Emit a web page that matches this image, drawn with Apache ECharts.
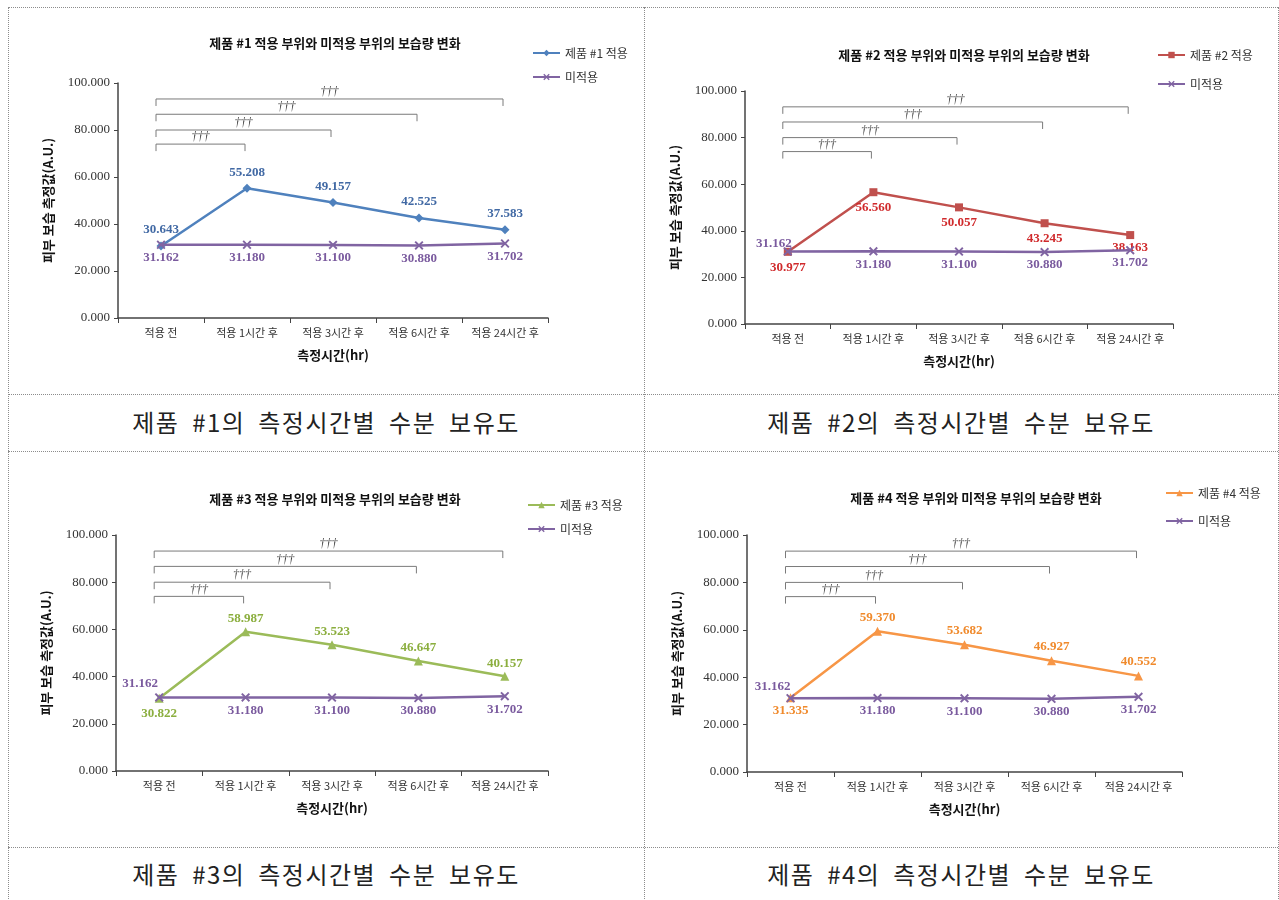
<!DOCTYPE html>
<html>
<head>
<meta charset="utf-8">
<script src="https://cdn.jsdelivr.net/npm/echarts@6/dist/echarts.min.js"></script>
<style>
  body { margin: 0; background: #fff; width: 1279px; height: 900px; position: relative; overflow: hidden; }
  .h { position: absolute; height: 0; border-top: 1px dotted #8c8c8c; }
  .v { position: absolute; width: 0; border-left: 1px dotted #8c8c8c; }
  .chart { position: absolute; }
  .cap { position: absolute; text-align: center; font-family: 'Noto Sans CJK KR'; font-size: 24px;
         letter-spacing: 1.5px; word-spacing: 6px; color: #222; }
</style>
</head>
<body>
<!-- table borders -->
<div class="h" style="left:8px;top:7px;width:1270px"></div>
<div class="h" style="left:8px;top:394px;width:1270px"></div>
<div class="h" style="left:8px;top:451px;width:1270px"></div>
<div class="h" style="left:8px;top:847px;width:1270px"></div>
<div class="v" style="left:8px;top:7px;height:900px"></div>
<div class="v" style="left:644px;top:7px;height:900px"></div>
<div class="v" style="left:1278px;top:7px;height:900px"></div>

<div id="c1" class="chart" style="left:8px;top:7px;width:636px;height:387px"></div>
<div id="c2" class="chart" style="left:644px;top:7px;width:634px;height:387px"></div>
<div id="c3" class="chart" style="left:8px;top:451px;width:636px;height:396px"></div>
<div id="c4" class="chart" style="left:644px;top:451px;width:634px;height:396px"></div>

<div class="cap" style="left:8px;top:404px;width:636px">제품 #1의 측정시간별 수분 보유도</div>
<div class="cap" style="left:644px;top:404px;width:634px">제품 #2의 측정시간별 수분 보유도</div>
<div class="cap" style="left:8px;top:856px;width:636px">제품 #3의 측정시간별 수분 보유도</div>
<div class="cap" style="left:644px;top:856px;width:634px">제품 #4의 측정시간별 수분 보유도</div>

<script>
const categories = ['적용 전', '적용 1시간 후', '적용 3시간 후', '적용 6시간 후', '적용 24시간 후'];
const untreated = [31.162, 31.180, 31.100, 30.880, 31.702];
const product1 = [30.643, 55.208, 49.157, 42.525, 37.583];
const product2 = [30.977, 56.560, 50.057, 43.245, 38.163];
const product3 = [30.822, 58.987, 53.523, 46.647, 40.157];
const product4 = [31.335, 59.370, 53.682, 46.927, 40.552];
const bracketEnds = [1, 2, 3, 4];
const bracketLevels = [74, 80, 86.7, 93.2];
const bracketMark = '†††';

const SERIF = "'Liberation Serif', 'Noto Sans CJK KR', serif";
const KR = "'Noto Sans CJK KR', sans-serif";
const PURPLE = '#8064A2', PURPLE_LBL = '#7a5a9e';
const CROSS = 'path://M0,1.5L1.5,0L5,3.5L8.5,0L10,1.5L6.5,5L10,8.5L8.5,10L5,6.5L1.5,10L0,8.5L3.5,5Z';

const top5 = d => ({ position: 'top', distance: d });
const bot5 = d => ({ position: 'bottom', distance: d });

const charts = [
  { el: 'c1', num: '#1', values: product1, color: '#4F81BD', lbl: '#4169a4', symbol: 'diamond', size: 9,
    grid: [110, 76, 430, 235], title: [327, 36], legend: [519, 34, 10],
    pLabels: [top5(5), top5(5), top5(5), top5(5), top5(5)],
    uLabels: [bot5(2), bot5(2), bot5(2), bot5(2), bot5(2)] },
  { el: 'c2', num: '#2', values: product2, color: '#C0504D', lbl: '#d02a2c', symbol: 'rect', size: 8,
    grid: [101, 84, 428, 233], title: [320, 48], legend: [508, 36, 15],
    pLabels: [bot5(5), bot5(5), bot5(5), bot5(5), bot5(2)],
    uLabels: [{ position: 'top', distance: -3, offset: [-14, 0] }, bot5(2), bot5(2), bot5(2), bot5(2)] },
  { el: 'c3', num: '#3', values: product3, color: '#9BBB59', lbl: '#8bae3e', symbol: 'triangle', size: 9,
    grid: [108, 84, 432, 236], title: [327, 48], legend: [514, 42, 10],
    pLabels: [bot5(4), top5(2), top5(2), top5(2), top5(2)],
    uLabels: [{ position: 'top', distance: 3, offset: [-19, 0] }, bot5(2), bot5(2), bot5(2), bot5(2)] },
  { el: 'c4', num: '#4', values: product4, color: '#F79646', lbl: '#f08a2c', symbol: 'triangle', size: 9,
    grid: [103, 84, 435, 237], title: [332, 47], legend: [516, 30, 14],
    pLabels: [bot5(2), top5(3), top5(3), top5(3), top5(3)],
    uLabels: [{ position: 'top', distance: 1, offset: [-18, 0] }, bot5(2), bot5(2), bot5(2), bot5(2)] }
];

function bracketItem(params, api) {
  const p0 = api.coord([0, api.value(1)]);
  const p1 = api.coord([api.value(0), api.value(1)]);
  const x0 = p0[0] - 5, x1 = p1[0] - 2, y = p0[1];
  return {
    type: 'group',
    children: [
      { type: 'polyline', shape: { points: [[x0, y + 7], [x0, y], [x1, y], [x1, y + 7]] },
        style: { stroke: '#7a7a7a', lineWidth: 1, fill: 'none' } },
      { type: 'text', style: { text: bracketMark, x: (x0 + x1) / 2, y: y - 1, align: 'center',
        verticalAlign: 'bottom', font: 'italic 12px ' + SERIF, fill: '#444' } }
    ]
  };
}

charts.forEach(c => {
  const chart = echarts.init(document.getElementById(c.el));
  const pName = '제품 ' + c.num + ' 적용';
  const option = {
    animation: false,
    textStyle: { fontFamily: SERIF },
    graphic: [{
      type: 'text', x: c.title[0], y: c.title[1],
      style: { text: '제품 ' + c.num + ' 적용 부위와 미적용 부위의 보습량 변화', align: 'center',
        verticalAlign: 'middle', font: 'bold 13px ' + KR, fill: '#111' }
    }],
    legend: {
      orient: 'vertical', left: c.legend[0], top: c.legend[1], itemGap: c.legend[2],
      itemWidth: 27, itemHeight: 8, data: [pName, '미적용'],
      textStyle: { fontFamily: KR, fontSize: 12, lineHeight: 14, color: '#333' }
    },
    grid: { left: c.grid[0], top: c.grid[1], width: c.grid[2], height: c.grid[3] },
    xAxis: {
      type: 'category', data: categories, boundaryGap: true,
      name: '측정시간(hr)', nameLocation: 'middle', nameGap: 31,
      nameTextStyle: { fontFamily: KR, fontWeight: 'bold', fontSize: 13, color: '#111' },
      axisLine: { lineStyle: { color: '#444', width: 1.5 } },
      axisTick: { show: true, length: 5, lineStyle: { color: '#444' } },
      axisLabel: { fontFamily: KR, fontSize: 11, color: '#333', margin: 9, interval: 0 }
    },
    yAxis: {
      type: 'value', min: 0, max: 100, interval: 20,
      name: '피부 보습 측정값(A.U.)', nameLocation: 'middle', nameGap: 63, nameRotate: 90,
      nameTextStyle: { fontFamily: KR, fontWeight: 'bold', fontSize: 13, color: '#111' },
      axisLine: { show: true, lineStyle: { color: '#444', width: 1.5 } },
      axisTick: { show: true, length: 4, lineStyle: { color: '#444' } },
      splitLine: { show: false },
      axisLabel: { fontSize: 13, color: '#333', margin: 8, formatter: v => v.toFixed(3) }
    },
    series: [
      {
        name: pName, type: 'line', symbol: c.symbol, symbolSize: c.size,
        lineStyle: { color: c.color, width: 2.5 }, itemStyle: { color: c.color },
        label: { show: true, color: c.lbl, fontWeight: 'bold', fontSize: 13, fontFamily: SERIF,
          formatter: p => p.value.toFixed(3) },
        data: c.values.map((v, i) => ({ value: v, label: c.pLabels[i] })), z: 3
      },
      {
        name: '미적용', type: 'line', symbol: CROSS, symbolSize: 9,
        lineStyle: { color: PURPLE, width: 2.5 }, itemStyle: { color: PURPLE },
        label: { show: true, color: PURPLE_LBL, fontWeight: 'bold', fontSize: 13, fontFamily: SERIF,
          formatter: p => p.value.toFixed(3) },
        data: untreated.map((v, i) => ({ value: v, label: c.uLabels[i] })), z: 4
      },
      {
        type: 'custom', renderItem: bracketItem, silent: true, z: 2,
        data: bracketEnds.map((e, i) => [e, bracketLevels[i]])
      }
    ]
  };
  chart.setOption(option);
});
</script>
</body>
</html>
